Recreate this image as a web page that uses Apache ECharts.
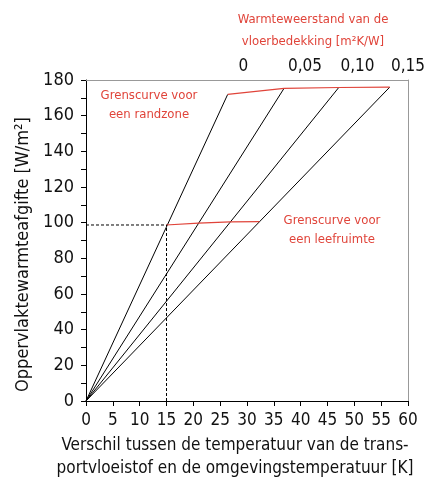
<!DOCTYPE html>
<html>
<head>
<meta charset="utf-8">
<script src="https://cdn.jsdelivr.net/npm/echarts@6/dist/echarts.min.js"></script>
<style>
  html, body { margin: 0; padding: 0; background: #fff; }
  #main { width: 437px; height: 483px; }
</style>
</head>
<body>
<div id="main"></div>
<script>
  // eindpunten van de vier lijnen (uit de oorsprong)
  var lineEndX = [26.4, 36.9, 47.1, 56.6]
  var lineEndY = [171.9, 175.3, 175.8, 176]

  // grenscurve voor een leefruimte
  var leefX = [14.9, 20.95, 26.9, 32.3]
  var leefY = [98.7, 99.7, 100.4, 100.6]

  // hulplijn (gestippeld)
  var refX = 15
  var refY = 98.7

  // bovenste as: warmteweerstand
  var topTickPos = [29.3, 40.8, 50.6, 60]
  var topTickLabels = ['0', '0,05', '0,10', '0,15']

  var font = '"DejaVu Sans Condensed", "Liberation Sans Narrow", "Liberation Sans", sans-serif'
  var red = '#e0443a'

  var myChart = echarts.init(document.getElementById('main'))

  var series = []
  lineEndX.forEach(function (x, i) {
    series.push({
      type: 'line',
      symbol: 'none',
      silent: true,
      lineStyle: { color: '#000', width: 1 },
      data: [[0, 0], [x, lineEndY[i]]],
    })
  })
  // grenscurve randzone
  series.push({
    type: 'line',
    symbol: 'none',
    lineStyle: { color: red, width: 1.2 },
    data: lineEndX.map(function (x, i) { return [x, lineEndY[i]] }),
  })
  series.push({
    type: 'line',
    symbol: 'none',
    lineStyle: { color: red, width: 1.2 },
    data: leefX.map(function (x, i) { return [x, leefY[i]] }),
  })
  series.push({
    type: 'line',
    symbol: 'none',
    lineStyle: { color: '#000', width: 1, type: [3, 2] },
    data: [[0, refY], [refX, refY]],
  })
  series.push({
    type: 'line',
    symbol: 'none',
    lineStyle: { color: '#000', width: 1, type: [3, 2] },
    data: [[refX, 0], [refX, refY]],
  })

  var option = {
    animation: false,
    textStyle: { fontFamily: font },
    grid: { left: 86, right: 29, top: 80, bottom: 82, outerBoundsMode: 'none', containLabel: false },
    xAxis: [
      {
        type: 'value',
        min: 0,
        max: 60,
        interval: 5,
        position: 'bottom',
        axisLine: { lineStyle: { color: '#000', width: 1 } },
        axisTick: { show: true, length: 5, lineStyle: { color: '#000' } },
        axisLabel: { color: '#111', fontSize: 17, fontFamily: font, margin: 11 },
        splitLine: { show: false },
        name: 'Verschil tussen de temperatuur van de trans-\nportvloeistof en de omgevingstemperatuur [K]',
        nameLocation: 'middle',
        nameGap: 30,
        nameTextStyle: {
          color: '#111', fontSize: 17, fontFamily: font,
          lineHeight: 23, verticalAlign: 'top', padding: [0, 24, 0, 0],
        },
      },
      {
        type: 'value',
        min: 0,
        max: 60,
        position: 'top',
        axisLine: { onZero: false, lineStyle: { color: '#999', width: 1 } },
        axisTick: { show: false },
        axisLabel: {
          color: '#111', fontSize: 17, fontFamily: font, margin: 5,
          customValues: topTickPos,
          formatter: function (v) {
            var i = topTickPos.indexOf(v)
            return i >= 0 ? topTickLabels[i] : ''
          },
        },
        splitLine: { show: false },
      },
    ],
    yAxis: [
      {
        type: 'value',
        min: 0,
        max: 180,
        interval: 20,
        axisLine: { show: true, lineStyle: { color: '#000', width: 1 } },
        axisTick: { show: true, length: 5, lineStyle: { color: '#000' } },
        minorTick: { show: true, splitNumber: 2, length: 5, lineStyle: { color: '#000' } },
        axisLabel: { color: '#111', fontSize: 18, fontFamily: font, margin: 12 },
        splitLine: { show: false },
        name: 'Oppervlaktewarmteafgifte [W/m²]',
        nameLocation: 'middle',
        nameGap: 54,
        nameTextStyle: { color: '#111', fontSize: 18, fontFamily: font, padding: [0, 28, 0, 0] },
      },
      {
        type: 'value',
        min: 0,
        max: 180,
        position: 'right',
        axisLine: { show: true, onZero: false, lineStyle: { color: '#999', width: 1 } },
        axisTick: { show: false },
        axisLabel: { show: false },
        splitLine: { show: false },
      },
    ],
    graphic: [
      {
        type: 'text',
        style: {
          text: 'Warmteweerstand van de\nvloerbedekking [m²K/W]',
          fill: red, fontSize: 13, fontFamily: font, textAlign: 'center',
          lineHeight: 22,
        },
        position: [313, 9],
      },
      {
        type: 'text',
        style: {
          text: 'Grenscurve voor\neen randzone',
          fill: red, fontSize: 13, fontFamily: font, textAlign: 'center',
          lineHeight: 19,
        },
        position: [149, 86],
      },
      {
        type: 'text',
        style: {
          text: 'Grenscurve voor\neen leefruimte',
          fill: red, fontSize: 13, fontFamily: font, textAlign: 'center',
          lineHeight: 19,
        },
        position: [332, 211],
      },
    ],
    series: series,
  }

  myChart.setOption(option)
</script>
</body>
</html>
